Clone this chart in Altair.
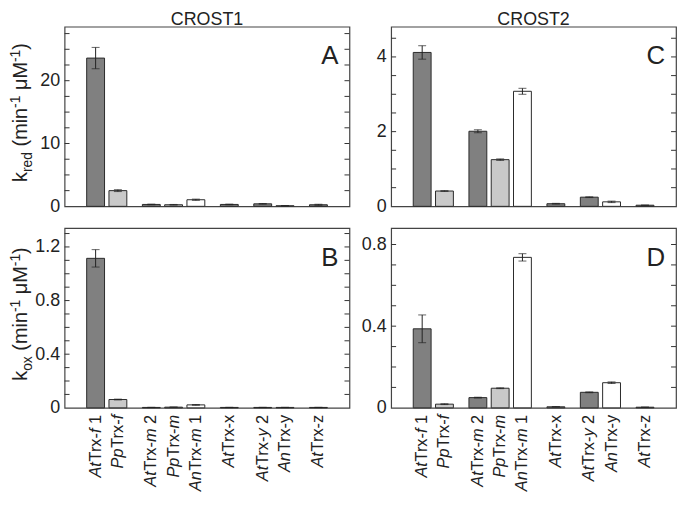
import altair as alt
import pandas as pd

names = ["AtTrx-f 1", "PpTrx-f", "AtTrx-m 2", "PpTrx-m", "AnTrx-m 1",
         "AtTrx-x", "AtTrx-y 2", "AnTrx-y", "AtTrx-z"]
# label pieces: (text, italic?)
label_parts = [
    [("At", 1), ("Trx-", 0), ("f", 1), (" 1", 0)],
    [("Pp", 1), ("Trx-", 0), ("f", 1)],
    [("At", 1), ("Trx-", 0), ("m", 1), (" 2", 0)],
    [("Pp", 1), ("Trx-", 0), ("m", 1)],
    [("An", 1), ("Trx-", 0), ("m", 1), (" 1", 0)],
    [("At", 1), ("Trx-x", 0)],
    [("At", 1), ("Trx-", 0), ("y", 1), (" 2", 0)],
    [("An", 1), ("Trx-y", 0)],
    [("At", 1), ("Trx-z", 0)],
]
positions = [0, 1, 2.5, 3.5, 4.5, 6, 7.5, 8.5, 10]
organism = ["At", "Pp", "At", "Pp", "An", "At", "At", "An", "At"]

A_vals = [23.6, 2.5, 0.3, 0.25, 1.05, 0.3, 0.4, 0.1, 0.25]
A_err = [1.7, 0.15, 0.05, 0.05, 0.1, 0.05, 0.05, 0.02, 0.08]
B_vals = [1.115, 0.062, 0.003, 0.005, 0.022, 0.003, 0.003, 0.003, 0.003]
B_err = [0.065, 0.003, 0.001, 0.001, 0.003, 0.001, 0.001, 0.001, 0.001]
C_vals = [4.12, 0.41, 2.01, 1.25, 3.08, 0.07, 0.245, 0.12, 0.03]
C_err = [0.18, 0.01, 0.04, 0.02, 0.08, 0.01, 0.01, 0.02, 0.005]
D_vals = [0.387, 0.018, 0.05, 0.096, 0.737, 0.005, 0.076, 0.123, 0.003]
D_err = [0.068, 0.002, 0.002, 0.002, 0.018, 0.001, 0.002, 0.004, 0.001]

W, H = 287, 181
FONT = "Liberation Sans"
XDOM = [-1.17, 11.17]
XLAB = 16.5

CW = {"k": .5, "r": .333, "e": .556, "d": .556, "o": .556, "x": .5, " ": .278,
      "(": .333, "m": .833, "i": .222, "n": .556, "-": .333, "1": .556, "2": .556,
      "μ": .576, "M": .833, ")": .333, "A": .667, "t": .278, "T": .611, "f": .278,
      "P": .667, "p": .556, "y": .5, "z": .5}


def tw(t, s):
    return sum(CW[c] for c in t) * s


def single(**kw):
    return alt.Chart(alt.Data(values=[{}])).mark_text(font=FONT, color="#222", **kw)


def ytitle_layers(sub):
    main, small = 20, 14
    pieces = [("k", main, 0), (sub, small, 5), (" (min", main, 0), ("-1", small, -7),
              (" μM", main, 0), ("-1", small, -7), (")", main, 0)]
    total = sum(tw(t, s) for t, s, _ in pieces)
    y0 = H / 2 + total / 2 - 4
    xb = -38
    layers = []
    cum = 0
    for t, s, dx in pieces:
        lead = len(t) - len(t.lstrip(" "))
        cum += tw(" " * lead, s)
        txt = t.lstrip(" ")
        layers.append(
            single(angle=270, align="left", baseline="alphabetic", fontSize=s)
            .encode(x=alt.value(xb + dx), y=alt.value(y0 - cum), text=alt.value(txt))
        )
        cum += tw(txt, s)
    return layers


# x label segments table
seg_rows = []
for p, parts in zip(positions, label_parts):
    for j, (t, it) in enumerate(parts):
        after = sum(tw(tt, XLAB) for tt, _ in parts[j + 1:])
        seg_rows.append({"pos": p, "seg": t.lstrip(" "), "it": it, "off": after})
seg_df = pd.DataFrame(seg_rows)


def xlabel_layer():
    xs = alt.X("pos:Q", scale=alt.Scale(domain=XDOM, nice=False, zero=False), axis=None)
    ys = alt.Y("off:Q", scale=alt.Scale(domain=[0, 100], range=[H + 7, H + 107]), axis=None)
    base = alt.Chart(seg_df)
    reg = base.transform_filter("datum.it == 0").mark_text(
        angle=270, align="right", baseline="middle", fontSize=XLAB, font=FONT, color="#222"
    ).encode(x=xs, y=ys, text="seg:N")
    ita = base.transform_filter("datum.it == 1").mark_text(
        angle=270, align="right", baseline="middle", fontSize=XLAB, font=FONT,
        fontStyle="italic", color="#222"
    ).encode(x=xs, y=ys, text="seg:N")
    return alt.layer(reg, ita)


def panel(vals, errs, ymax, tick_step, label_vals, letter, bottom, left, title=None):
    df = pd.DataFrame({"pos": positions, "org": organism,
                       "val": vals, "lo": [v - e for v, e in zip(vals, errs)],
                       "hi": [v + e for v, e in zip(vals, errs)]})
    xenc = alt.X("pos:Q", scale=alt.Scale(domain=XDOM, nice=False, zero=False), axis=None)
    yscale = alt.Scale(domain=[0, ymax], nice=False)
    yaxis = alt.Axis(values=label_vals, ticks=False, domain=False, grid=False,
                     labelFontSize=18, labelFont=FONT, labelColor="#222",
                     labelPadding=5, title=None, format="~g")
    base = alt.Chart(df)
    bars = base.mark_bar(size=18, stroke="#2a2a2a", strokeWidth=1).encode(
        x=xenc,
        y=alt.Y("val:Q", scale=yscale, axis=yaxis),
        fill=alt.Fill("org:N", scale=alt.Scale(domain=["At", "Pp", "An"],
                                               range=["#808080", "#c9c9c9", "#ffffff"]),
                      legend=None),
    )
    err = base.mark_rule(color="#222", strokeWidth=1).encode(
        x=xenc, y=alt.Y("lo:Q", scale=yscale), y2="hi:Q")
    cap_lo = base.mark_tick(orient="horizontal", size=8, thickness=1, color="#222").encode(
        x=xenc, y=alt.Y("lo:Q", scale=yscale))
    cap_hi = base.mark_tick(orient="horizontal", size=8, thickness=1, color="#222").encode(
        x=xenc, y=alt.Y("hi:Q", scale=yscale))
    n = int(round(ymax / tick_step))
    tick_vals = [round(i * tick_step, 4) for i in range(1, n + 1) if i * tick_step < ymax]
    tdf = pd.DataFrame({"t": tick_vals})
    tl = alt.Chart(tdf).mark_rule(color="#333", strokeWidth=1).encode(
        y=alt.Y("t:Q", scale=yscale), x=alt.value(0), x2=alt.value(5))
    tr = alt.Chart(tdf).mark_rule(color="#333", strokeWidth=1).encode(
        y=alt.Y("t:Q", scale=yscale), x=alt.value(W - 5), x2=alt.value(W))
    let = single(align="right", baseline="alphabetic", fontSize=26).encode(
        x=alt.value(W - 11), y=alt.value(38), text=alt.value(letter))
    layers = [bars, err, cap_lo, cap_hi, tl, tr, let]
    if left:
        layers += ytitle_layers("red" if letter == "A" else "ox")
    if title:
        layers.append(single(align="center", baseline="top", fontSize=18)
                      .encode(x=alt.value(W / 2), y=alt.value(-16), text=alt.value(title)))
    ch = alt.layer(*layers)
    if bottom:
        ch = alt.layer(ch, xlabel_layer()).resolve_scale(y="independent")
    return ch.properties(width=W, height=H)


pA = panel(A_vals, A_err, 28.6, 2.5, [0, 10, 20], "A", False, True, "CROST1")
pB = panel(B_vals, B_err, 1.34, 0.1, [0, 0.4, 0.8, 1.2], "B", True, True)
pC = panel(C_vals, C_err, 4.81, 0.5, [0, 2, 4], "C", False, False, "CROST2")
pD = panel(D_vals, D_err, 0.88, 0.1, [0, 0.4, 0.8], "D", True, False)

chart = alt.concat(pA, pC, pB, pD, columns=2, spacing={"row": 22, "column": 42},
                   bounds="flush").properties(
    padding={"left": 0, "top": 0, "right": 0, "bottom": 0}
).configure_view(stroke="#444", strokeWidth=1.2).configure_axis(grid=False)

chart.save("out.html", embed_options={"renderer": "svg", "actions": False})
